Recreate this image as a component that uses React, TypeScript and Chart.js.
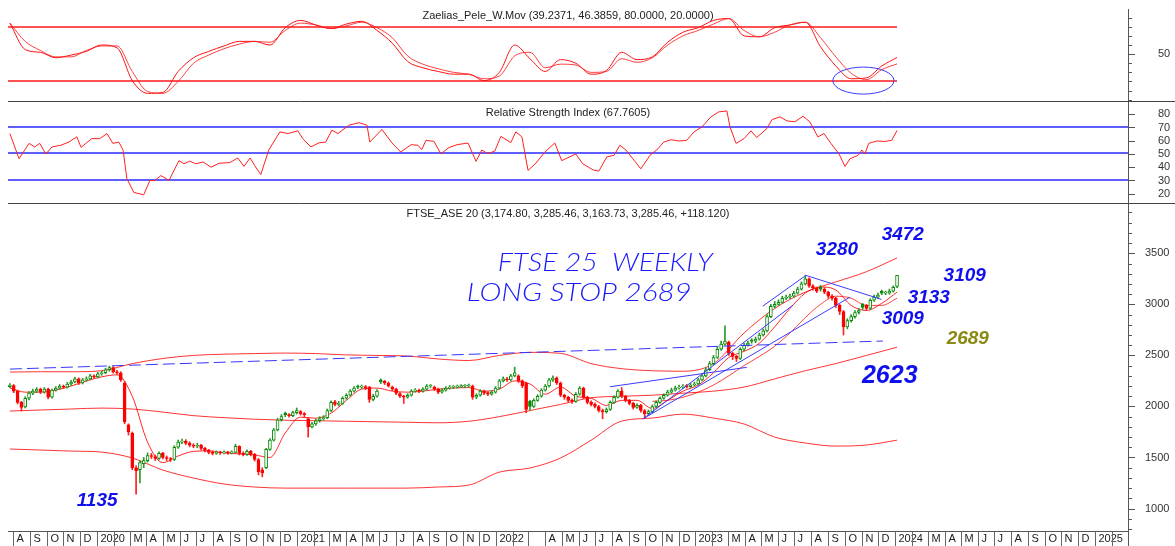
import React, { useEffect, useRef } from 'react';
import { Chart, registerables } from 'chart.js';
Chart.register(...registerables);

// ---------- layout constants ----------
const W = 1175;
const H_TOP = 101;
const H_RSI = 102;
const H_PRICE = 343;
const PLOT_LEFT = 8;
const AXIS_W = 47;
const X_MIN = -0.5;
const X_MAX = 292.4;
const FONT = '"Liberation Sans", Arial, sans-serif';
const START_UTC = Date.UTC(2019, 6, 26); // first weekly bar
const WEEK_MS = 7 * 864e5;

// ---------- axis labels ----------
const monthLabels = [
  'A', 'S', 'O', 'N', 'D',
  '2020', '', 'M', 'A', 'M', 'J', 'J', 'A', 'S', 'O', 'N', 'D',
  '2021', '', 'M', 'A', 'M', 'J', 'J', 'A', 'S', 'O', 'N', 'D',
  '2022', '', '', 'A', 'M', 'J', 'J', 'A', 'S', 'O', 'N', 'D',
  '2023', '', 'M', 'A', 'M', 'J', 'J', 'A', 'S', 'O', 'N', 'D',
  '2024', '', 'M', 'A', 'M', 'J', 'J', 'A', 'S', 'O', 'N', 'D',
  '2025', '',
];
const oscTicks = [0, 10, 20, 30, 40, 50, 60, 70, 80, 90];
const oscTickLabels = [50];
const rsiTicks = [20, 30, 40, 50, 60, 70, 80, 90];
const rsiTickLabels = [20, 30, 40, 50, 60, 70, 80];
const priceTickLabels = [1000, 1500, 2000, 2500, 3000, 3500];

// ---------- weekly candles (week index 0 = 26 Jul 2019) ----------
const opens = [
  2195, 2205, 2150, 2040, 1995, 2080, 2130, 2150, 2170, 2140,
  2170, 2090, 2160, 2180, 2200, 2190, 2220, 2240, 2270, 2230,
  2260, 2270, 2300, 2290, 2320, 2330, 2360, 2380, 2340, 2330,
  2230, 1820, 1740, 1400, 1380, 1440, 1470, 1520, 1510, 1490,
  1540, 1500, 1490, 1480, 1600, 1650, 1660, 1640, 1620, 1610,
  1620, 1590, 1570, 1550, 1540, 1550, 1545, 1550, 1545, 1550,
  1610, 1540, 1530, 1560, 1530, 1480, 1380, 1400, 1580, 1670,
  1770, 1870, 1935, 1920, 1910, 1940, 1950, 1930, 1880, 1800,
  1830, 1860, 1880, 1890, 1960, 2045, 2020, 2030, 2080, 2110,
  2150, 2200, 2190, 2195, 2190, 2070, 2100, 2260, 2245, 2230,
  2190, 2170, 2125, 2100, 2090, 2110, 2150, 2160, 2150, 2170,
  2200, 2190, 2170, 2140, 2160, 2180, 2190, 2190, 2195, 2200,
  2200, 2200, 2090, 2110, 2150, 2135, 2120, 2140, 2180, 2250,
  2270, 2260, 2300, 2300, 2250, 2230, 2050, 2000, 2060, 2100,
  2160, 2200, 2260, 2280, 2230, 2110, 2090, 2060, 2050, 2120,
  2180, 2090, 2040, 2020, 2000, 1960, 1950, 1970, 2040, 2090,
  2150, 2100, 2060, 2030, 1990, 2010, 1960, 1930, 1950, 2000,
  2040, 2080, 2110, 2140, 2160, 2180, 2190, 2200, 2195, 2210,
  2220, 2260, 2300, 2360, 2420, 2480, 2560, 2610, 2630, 2520,
  2490, 2470, 2560, 2600, 2650, 2640, 2660, 2700, 2740, 2880,
  2980, 3000, 3020, 3060, 3070, 3080, 3110, 3150, 3200, 3250,
  3180, 3160, 3170, 3150, 3120, 3080, 3060, 2990, 2930, 2780,
  2840, 2880, 2920, 3000, 2990, 2960, 3040, 3070, 3130, 3110,
  3110, 3130, 3174.8,
];
const highs = [
  2225, 2215, 2160, 2050, 2095, 2145, 2170, 2185, 2180, 2185,
  2180, 2170, 2195, 2215, 2210, 2235, 2255, 2285, 2280, 2275,
  2290, 2315, 2310, 2335, 2345, 2375, 2395, 2390, 2355, 2340,
  2245, 1830, 1750, 1420, 1470, 1500, 1545, 1540, 1525, 1555,
  1550, 1515, 1500, 1615, 1670, 1680, 1675, 1655, 1635, 1640,
  1630, 1600, 1580, 1565, 1565, 1560, 1565, 1560, 1565, 1630,
  1615, 1555, 1575, 1570, 1540, 1490, 1400, 1590, 1685, 1785,
  1885, 1920, 1945, 1930, 1955, 1985, 1960, 1940, 1890, 1845,
  1880, 1900, 1910, 1975, 2055, 2060, 2050, 2095, 2125, 2165,
  2195, 2210, 2210, 2205, 2195, 2120, 2165, 2270, 2255, 2240,
  2200, 2180, 2135, 2110, 2125, 2165, 2175, 2170, 2185, 2215,
  2215, 2200, 2180, 2175, 2195, 2205, 2205, 2210, 2215, 2215,
  2220, 2210, 2125, 2165, 2160, 2145, 2155, 2195, 2265, 2290,
  2285, 2315, 2385, 2310, 2260, 2240, 2060, 2075, 2115, 2175,
  2215, 2275, 2300, 2290, 2240, 2120, 2100, 2075, 2135, 2195,
  2190, 2100, 2055, 2035, 2010, 1975, 1985, 2055, 2105, 2165,
  2185, 2110, 2070, 2040, 2025, 2020, 1970, 1965, 2015, 2055,
  2095, 2125, 2160, 2180, 2200, 2210, 2215, 2215, 2225, 2240,
  2275, 2320, 2380, 2440, 2500, 2580, 2640, 2790, 2640, 2530,
  2500, 2575, 2620, 2640, 2665, 2680, 2720, 2760, 2900, 3000,
  3030, 3045, 3080, 3090, 3100, 3130, 3170, 3220, 3280, 3260,
  3195, 3170, 3185, 3165, 3130, 3095, 3070, 3000, 2940, 2860,
  2900, 2940, 2960, 3010, 3000, 3055, 3090, 3110, 3140, 3130,
  3150, 3180, 3285.46,
];
const lows = [
  2185, 2135, 2025, 1955, 1985, 2065, 2115, 2135, 2125, 2130,
  2075, 2080, 2150, 2170, 2175, 2180, 2205, 2230, 2215, 2220,
  2245, 2260, 2275, 2280, 2305, 2320, 2345, 2325, 2315, 2245,
  1830, 1720, 1380, 1140, 1250, 1400, 1455, 1490, 1470, 1480,
  1485, 1470, 1460, 1470, 1590, 1635, 1625, 1605, 1595, 1595,
  1575, 1555, 1535, 1525, 1530, 1530, 1535, 1530, 1535, 1545,
  1525, 1515, 1520, 1515, 1465, 1330, 1310, 1390, 1570, 1660,
  1760, 1855, 1900, 1895, 1900, 1925, 1915, 1900, 1700, 1790,
  1815, 1845, 1865, 1880, 1950, 2005, 2005, 2020, 2070, 2100,
  2140, 2175, 2175, 2165, 2040, 2055, 2090, 2225, 2215, 2190,
  2155, 2115, 2085, 2030, 2080, 2100, 2140, 2135, 2140, 2160,
  2185, 2155, 2125, 2130, 2150, 2170, 2175, 2180, 2185, 2185,
  2190, 2070, 2075, 2100, 2115, 2105, 2110, 2130, 2170, 2240,
  2245, 2250, 2290, 2235, 2185, 1940, 1960, 1990, 2050, 2090,
  2150, 2190, 2245, 2215, 2095, 2070, 2045, 2030, 2040, 2110,
  2075, 2025, 2005, 1985, 1945, 1880, 1935, 1960, 2030, 2080,
  2085, 2045, 2015, 1975, 1980, 1945, 1886, 1915, 1940, 1990,
  2030, 2070, 2100, 2130, 2150, 2170, 2175, 2180, 2185, 2200,
  2210, 2250, 2290, 2350, 2410, 2470, 2550, 2600, 2500, 2460,
  2440, 2460, 2545, 2590, 2620, 2625, 2650, 2690, 2730, 2870,
  2965, 2990, 3010, 3045, 3055, 3070, 3100, 3140, 3190, 3165,
  3140, 3115, 3130, 3105, 3060, 3040, 2970, 2900, 2700, 2760,
  2825, 2865, 2905, 2950, 2940, 2950, 3030, 3060, 3095, 3095,
  3100, 3120, 3163.73,
];
const closes = [
  2210, 2150, 2040, 1990, 2080, 2130, 2150, 2170, 2140, 2170,
  2090, 2160, 2180, 2200, 2190, 2220, 2240, 2270, 2230, 2260,
  2270, 2300, 2290, 2320, 2330, 2360, 2380, 2340, 2330, 2260,
  1850, 1750, 1400, 1370, 1450, 1470, 1520, 1510, 1490, 1540,
  1500, 1490, 1480, 1600, 1650, 1660, 1640, 1620, 1610, 1620,
  1590, 1570, 1550, 1540, 1550, 1545, 1550, 1545, 1550, 1610,
  1540, 1530, 1560, 1530, 1480, 1360, 1350, 1580, 1670, 1770,
  1870, 1900, 1920, 1910, 1940, 1960, 1930, 1920, 1800, 1830,
  1860, 1880, 1890, 1960, 2040, 2020, 2030, 2080, 2110, 2150,
  2180, 2190, 2190, 2180, 2070, 2100, 2150, 2240, 2230, 2200,
  2170, 2130, 2100, 2090, 2110, 2150, 2160, 2150, 2170, 2200,
  2200, 2170, 2140, 2160, 2180, 2190, 2190, 2195, 2200, 2200,
  2205, 2090, 2110, 2150, 2130, 2120, 2140, 2180, 2250, 2270,
  2260, 2300, 2330, 2250, 2200, 1970, 2000, 2060, 2100, 2160,
  2200, 2260, 2280, 2230, 2110, 2090, 2060, 2050, 2120, 2180,
  2090, 2040, 2020, 2000, 1960, 1950, 1970, 2040, 2090, 2150,
  2100, 2060, 2030, 1990, 2010, 1960, 1930, 1950, 2000, 2040,
  2080, 2110, 2140, 2160, 2180, 2190, 2200, 2195, 2210, 2220,
  2260, 2300, 2360, 2420, 2480, 2560, 2610, 2640, 2520, 2490,
  2470, 2560, 2600, 2620, 2640, 2660, 2700, 2740, 2880, 2980,
  3000, 3020, 3060, 3070, 3080, 3110, 3150, 3200, 3250, 3180,
  3160, 3130, 3150, 3120, 3080, 3060, 2990, 2930, 2780, 2840,
  2880, 2920, 2940, 2970, 2960, 3040, 3070, 3090, 3110, 3110,
  3130, 3167.34, 3285.46,
];

// ---------- price overlays ----------
const bandWeeks = [0, 8, 16, 24, 32, 40, 48, 56, 64, 72, 80, 88, 96, 104, 112, 120, 128, 136, 144, 152, 160, 168, 176, 184, 192, 200, 208, 216, 224, 232];
const bandUpper = [2337, 2340, 2340, 2350, 2420, 2470, 2500, 2512, 2518, 2523, 2518, 2505, 2500, 2494, 2465, 2450, 2500, 2530, 2520, 2420, 2370, 2350, 2345, 2420, 2720, 2960, 3120, 3220, 3320, 3455];
const bandMiddle = [1955, 1965, 1975, 1984, 1975, 1945, 1910, 1890, 1875, 1865, 1860, 1855, 1850, 1845, 1840, 1855, 1900, 1960, 2020, 2085, 2100, 2110, 2130, 2150, 2190, 2270, 2350, 2420, 2500, 2580];
const bandLower = [1583, 1573, 1563, 1553, 1495, 1377, 1299, 1240, 1211, 1200, 1200, 1200, 1200, 1200, 1211, 1230, 1357, 1397, 1495, 1670, 1857, 1886, 1925, 1886, 1828, 1700, 1642, 1612, 1622, 1670];

const maWeeks = [0, 4, 8, 12, 16, 20, 24, 28, 32, 36, 40, 44, 48, 52, 56, 60, 64, 68, 72, 76, 80, 84, 88, 92, 96, 100, 104, 108, 112, 116, 120, 124, 128, 132, 136, 140, 144, 148, 152, 156, 160, 164, 168, 172, 176, 180, 184, 188, 192, 196, 200, 204, 208, 212, 216, 220, 224, 228, 232];
const maFast = [2180, 2140, 2140, 2160, 2200, 2250, 2290, 2310, 2100, 1650, 1450, 1515, 1560, 1565, 1545, 1535, 1525, 1500, 1740, 1895, 1885, 1935, 2060, 2170, 2180, 2150, 2140, 2150, 2170, 2180, 2185, 2150, 2170, 2250, 2220, 2120, 2190, 2100, 2080, 2010, 2060, 2060, 1980, 2060, 2150, 2210, 2330, 2480, 2540, 2620, 2780, 2960, 3110, 3170, 3140, 2990, 2940, 3010, 3120];
const maSlowWeeks = [168, 172, 176, 180, 184, 188, 192, 196, 200, 204, 208, 212, 216, 220, 224, 228, 232];
const maSlow = [2050, 2060, 2090, 2140, 2210, 2300, 2400, 2490, 2590, 2720, 2870, 3000, 3080, 3060, 2990, 2990, 3060];

// trend lines [week, price]
const trendFrom = [[156.9, 2193], [165.5, 1877], [165.5, 1877], [196.9, 2983], [207.9, 3287]];
const trendTo = [[192.7, 2383], [204.8, 2993], [219.7, 3071], [207.9, 3277], [227.9, 3049]];
const stopLine = [[0, 2366], [228.3, 2641]];

// annotations
const noteTexts = ['3280', '3472', '3109', '3133', '3009', '2689', '2623', '1135'];
const noteWeeks = [216.3, 233.5, 249.7, 240.3, 233.5, 250.5, 230.1, 22.8];
const notePrices = [3532, 3679, 3277, 3062, 2856, 2660, 2298, 1078];
const handTexts = ['FTSE 25  WEEKLY', 'LONG STOP 2689'];
const handWeeks = [155.7, 148.9];
const handPrices = [3409, 3116];

// ---------- oscillator (top panel) ----------
const oscWeeks = maWeeks;
const oscMain = [84, 55, 52, 46, 49, 53, 60, 57, 21, 7, 8, 31, 46, 53, 59, 64, 64, 60, 79, 87, 82, 78, 83, 86, 76, 62, 42, 35, 31, 28, 28, 21, 30, 60, 45, 31, 44, 40, 28, 32, 52, 44, 47, 63, 74, 79, 87, 89, 70, 69, 79, 82, 85, 58, 37, 23, 24, 37, 46.39];
const oscSignal = [84, 64, 54, 47, 47, 54, 59, 59, 31, 9, 7, 20, 40, 49, 56, 61, 64, 63, 76, 84, 82, 78, 81, 85, 79, 68, 48, 39, 34, 30, 28, 23, 26, 48, 52, 35, 39, 38, 30, 31, 45, 41, 46, 60, 70, 76, 83, 89, 76, 69, 74, 82, 85, 68, 47, 29, 22, 33, 39.24];
const oscLevels = [80, 20];
const oscLevelEnd = 232;
const ellipseCenter = [223.2, 21];
const ellipseRadius = [8, 14.8];

// ---------- RSI ----------
const rsiWeeks = [0, 2.4, 5, 6.5, 7.8, 9.4, 11, 13.3, 15.4, 17.5, 18.6, 21.4, 23.5, 25.4, 26.9, 28.5, 29.6, 30.6, 32.4, 35, 36.6, 37.9, 39.5, 41.6, 44.2, 45.5, 47, 48.6, 50.5, 52.6, 54.7, 57.5, 59.6, 61.2, 62.8, 64, 65.6, 67.7, 70.6, 72.7, 75.3, 76.6, 78.7, 80.8, 82.6, 84.2, 85.8, 88.6, 91.3, 93.4, 94.1, 97.3, 99.9, 102.2, 104.9, 106.7, 107.7, 108.8, 110.9, 112.7, 114.8, 116.9, 119.8, 121.9, 123.4, 125, 126.8, 128.4, 131, 132.3, 133.9, 135.5, 137.6, 139.9, 142.5, 144.3, 148, 149.8, 152.5, 154, 156.1, 158, 159.5, 161.1, 162.9, 165, 167.4, 169.5, 171, 172.9, 174.9, 177, 178.9, 181, 183.3, 185.4, 187.5, 188.3, 189.9, 192, 193.8, 195.3, 198, 199.3, 201.4, 203.2, 205.3, 207.4, 209.2, 211.3, 212.9, 214.7, 216.8, 218.4, 219.7, 221.8, 222.8, 223.6, 224.6, 226.7, 228.8, 230.6, 232];
const rsiValues = [65.4, 46.4, 58, 55.3, 58, 50, 55.3, 56.6, 59, 63, 55, 61.6, 61.6, 65.4, 58, 59, 52.8, 31.3, 21, 19.2, 30, 30, 33.7, 30, 45, 42.6, 44.6, 42.6, 44, 40, 43, 43.5, 47, 40.6, 47, 41.3, 34.5, 53, 66.7, 65.4, 67.5, 61.6, 55.3, 58.4, 59, 68, 65.4, 71.7, 73.6, 71.7, 59, 68.5, 58.4, 51.5, 57, 56.6, 53.3, 60.3, 59.5, 50.2, 54.8, 57, 58.3, 44.4, 53, 50.2, 52.2, 63.3, 58.6, 66.7, 62.9, 37.6, 43.2, 51.5, 58.3, 45, 50, 42.6, 38, 37, 47.8, 49, 56.6, 53, 46.4, 38.8, 49, 54, 59, 60.8, 59.8, 60.3, 66.7, 70.5, 78, 81.8, 82.5, 70.5, 58, 61.6, 67.5, 62.4, 69.3, 76, 78, 75, 74.3, 78.5, 74.3, 62.9, 65.4, 58, 50.2, 40.6, 46.4, 49, 53, 50, 58, 59.8, 59.5, 60.3, 67.76];
const rsiLevels = [70, 51, 30];

// ---------- helpers ----------
const pts = (xs: number[], ys: number[]) => xs.map((x, i) => ({ x, y: ys[i] }));
const seg = (a: number[], b: number[]) => [{ x: a[0], y: a[1] }, { x: b[0], y: b[1] }];

const lineDs = (data: any[], color: string, width = 1, extra: any = {}) => ({
  type: 'line', data, borderColor: color, backgroundColor: color, borderWidth: width, pointRadius: 0, fill: false, tension: 0, ...extra,
});

function yAxis(min: number, max: number, tickValues: number[], labelled: number[], padding: number) {
  return {
    type: 'linear', position: 'right', min, max,
    afterBuildTicks: (s: any) => { s.ticks = tickValues.map((v) => ({ value: v })); },
    afterFit: (s: any) => { s.width = AXIS_W; s.paddingTop = 0; s.paddingBottom = 0; },
    ticks: {
      callback: (v: number) => (labelled.includes(v) ? String(v) : ''),
      padding, crossAlign: 'near', autoSkip: false,
      font: { family: FONT, size: 11 }, color: '#333',
    },
    grid: { display: false, drawTicks: true, tickLength: 8 },
    border: { display: true, color: '#555', width: 1 },
  };
}

function baseOptions(padTop: number, padBottom: number, y: any) {
  return {
    responsive: false, animation: false, devicePixelRatio: 1, events: [],
    layout: { padding: { left: PLOT_LEFT, right: 0, top: padTop, bottom: padBottom } },
    plugins: { legend: { display: false }, tooltip: { enabled: false }, title: { display: false }, colors: { enabled: false } },
    scales: {
      x: { type: 'linear', min: X_MIN, max: X_MAX, display: false, offset: false },
      y,
    },
  };
}

const tickMarks = (labelled: number[]) => ({
  id: 'tickMarks',
  afterDraw(chart: any) {
    const s = chart.scales.y; const ctx = chart.ctx;
    ctx.save(); ctx.strokeStyle = '#555'; ctx.lineWidth = 1;
    s.ticks.forEach((t: any) => {
      const yy = Math.round(s.getPixelForValue(t.value)) + 0.5;
      const len = labelled.includes(t.value) ? 7 : 4;
      ctx.beginPath(); ctx.moveTo(s.left, yy); ctx.lineTo(s.left + len, yy); ctx.stroke();
    });
    ctx.restore();
  },
});

// horizontal reference levels drawn through the scales (soft 1.3px like the original)
const levelPlugin = (levels: number[], endWeek: number, color: string) => ({
  id: 'levels',
  beforeDatasetsDraw(chart: any) {
    const { ctx, scales: { x, y } } = chart;
    ctx.save(); ctx.strokeStyle = color; ctx.lineWidth = 1.3;
    levels.forEach((lv) => {
      const yy = Math.round(y.getPixelForValue(lv));
      ctx.beginPath(); ctx.moveTo(x.getPixelForValue(X_MIN), yy); ctx.lineTo(x.getPixelForValue(endWeek), yy); ctx.stroke();
    });
    ctx.restore();
  },
});

const titlePlugin = (text: string, y: number) => ({
  id: 'panelTitle',
  afterDraw(chart: any) {
    const { ctx, chartArea } = chart;
    ctx.save();
    ctx.font = `11px ${FONT}`; ctx.fillStyle = '#222';
    ctx.textAlign = 'center'; ctx.textBaseline = 'middle';
    ctx.fillText(text, (chartArea.left + chartArea.right) / 2, y);
    ctx.restore();
  },
});

const separatorPlugin = {
  id: 'separator',
  afterDraw(chart: any) {
    const ctx = chart.ctx;
    ctx.save(); ctx.strokeStyle = '#444'; ctx.lineWidth = 1;
    ctx.beginPath(); ctx.moveTo(PLOT_LEFT, 0.5); ctx.lineTo(W, 0.5); ctx.stroke();
    ctx.restore();
  },
};

const ellipsePlugin = {
  id: 'ellipse',
  afterDatasetsDraw(chart: any) {
    const { ctx, scales: { x, y } } = chart;
    const cx = x.getPixelForValue(ellipseCenter[0]);
    const cy = y.getPixelForValue(ellipseCenter[1]);
    const rx = Math.abs(x.getPixelForValue(ellipseCenter[0] + ellipseRadius[0]) - cx);
    const ry = Math.abs(y.getPixelForValue(ellipseCenter[1] + ellipseRadius[1]) - cy);
    ctx.save(); ctx.strokeStyle = '#3a3aff'; ctx.lineWidth = 1;
    ctx.beginPath(); ctx.ellipse(cx, cy, rx, ry, 0, 0, Math.PI * 2); ctx.stroke();
    ctx.restore();
  },
};

const noteColors = ['#1010ee', '#1010ee', '#1010ee', '#1010ee', '#1010ee', '#8a8a12', '#1010ee', '#1010ee'];
const noteSizes = [19, 19, 19, 19, 19, 19, 25, 19];
const handWidths = [215, 225];

const notesPlugin = {
  id: 'notes',
  afterDatasetsDraw(chart: any) {
    const { ctx, scales: { x, y } } = chart;
    ctx.save();
    ctx.textAlign = 'center'; ctx.textBaseline = 'middle';
    noteTexts.forEach((t, i) => {
      ctx.font = `italic bold ${noteSizes[i]}px ${FONT}`;
      ctx.fillStyle = noteColors[i];
      ctx.fillText(t, x.getPixelForValue(noteWeeks[i]), y.getPixelForValue(notePrices[i]));
    });
    handTexts.forEach((t, i) => {
      ctx.save();
      ctx.font = `italic 300 26px Lato, "DejaVu Sans", sans-serif`;
      ctx.fillStyle = '#1a1aff';
      const w = ctx.measureText(t).width;
      ctx.translate(x.getPixelForValue(handWeeks[i]), y.getPixelForValue(handPrices[i]));
      ctx.scale(handWidths[i] / w, 1);
      ctx.fillText(t, 0, 0);
      ctx.restore();
    });
    ctx.restore();
  },
};

const monthAxisPlugin = {
  id: 'monthAxis',
  afterDraw(chart: any) {
    const { ctx, chartArea, scales: { x } } = chart;
    const top = Math.round(chartArea.bottom) + 0.5;
    const H = chart.height;
    ctx.save();
    ctx.strokeStyle = '#555'; ctx.lineWidth = 1;
    ctx.beginPath(); ctx.moveTo(chartArea.left, top); ctx.lineTo(chartArea.right, top); ctx.stroke();
    ctx.beginPath(); ctx.moveTo(Math.round(chartArea.right) + 0.5, chartArea.bottom); ctx.lineTo(Math.round(chartArea.right) + 0.5, H); ctx.stroke();
    ctx.font = `11px ${FONT}`; ctx.fillStyle = '#222';
    ctx.textAlign = 'left'; ctx.textBaseline = 'middle';
    monthLabels.forEach((lab, k) => {
      const w = (Date.UTC(2019, 7 + k, 1) - START_UTC) / WEEK_MS;
      const px = Math.round(x.getPixelForValue(w)) + 0.5;
      ctx.strokeStyle = '#666';
      ctx.beginPath(); ctx.moveTo(px, top); ctx.lineTo(px, H); ctx.stroke();
      if (lab) ctx.fillText(lab, px + 3, top + 7.5);
    });
    ctx.restore();
  },
};

// ---------- charts ----------
function makeOsc(canvas: HTMLCanvasElement) {
  const datasets: any[] = [
    lineDs(pts(oscWeeks, oscSignal), 'rgba(255,30,30,0.85)', 1, { cubicInterpolationMode: 'monotone' }),
    lineDs(pts(oscWeeks, oscMain), '#ff1010', 1, { cubicInterpolationMode: 'monotone' }),
  ];
  return new Chart(canvas, {
    type: 'line',
    data: { datasets },
    options: baseOptions(9, 0, yAxis(-1.4, 99.5, oscTicks, oscTickLabels, 22)) as any,
    plugins: [levelPlugin(oscLevels, oscLevelEnd, '#ff1a1a'), tickMarks(oscTickLabels), ellipsePlugin, titlePlugin('Zaelias_Pele_W.Mov (39.2371, 46.3859, 80.0000, 20.0000)', 16)],
  });
}

function makeRsi(canvas: HTMLCanvasElement) {
  const datasets: any[] = [
    lineDs(pts(rsiWeeks, rsiValues), '#ff2020', 1),
  ];
  return new Chart(canvas, {
    type: 'line',
    data: { datasets },
    options: baseOptions(0, 0, yAxis(13, 90, rsiTicks, rsiTickLabels, 22)) as any,
    plugins: [levelPlugin(rsiLevels, X_MAX, '#2a2aff'), tickMarks(rsiTickLabels), separatorPlugin, titlePlugin('Relative Strength Index (67.7605)', 12)],
  });
}

function makePrice(canvas: HTMLCanvasElement) {
  const idx = closes.map((_, i) => i);
  const isUp = idx.map((i) => (i === 0 ? closes[0] >= opens[0] : closes[i] >= closes[i - 1]));
  const edge = idx.map((i) => (isUp[i] ? '#0a8a0a' : '#ff0000'));
  const wickCol = idx.map((i) => (isUp[i] ? '#2a9a2a' : '#ff2020'));
  const fillCol = idx.map((i) => (closes[i] < opens[i] ? edge[i] : '#ffffff'));
  const priceTicks: number[] = [];
  for (let v = 800; v <= 3900; v += 100) priceTicks.push(v);

  const smooth = { cubicInterpolationMode: 'monotone' };
  const datasets: any[] = [
    lineDs(pts(bandWeeks, bandUpper), 'rgba(255,0,0,0.8)', 1, { ...smooth, order: 6 }),
    lineDs(pts(bandWeeks, bandMiddle), 'rgba(255,0,0,0.8)', 1, { ...smooth, order: 6 }),
    lineDs(pts(bandWeeks, bandLower), 'rgba(255,0,0,0.8)', 1, { ...smooth, order: 6 }),
    lineDs(pts(maWeeks, maFast), 'rgba(255,0,0,0.85)', 1, { ...smooth, order: 5 }),
    lineDs(pts(maSlowWeeks, maSlow), 'rgba(255,0,0,0.75)', 1, { ...smooth, order: 5 }),
    {
      type: 'bar', order: 4, grouped: false, barThickness: 1,
      data: idx.map((i) => ({ x: i, y: [lows[i], highs[i]] })),
      backgroundColor: wickCol, borderWidth: 0,
    },
    {
      type: 'bar', order: 3, grouped: false, barThickness: 3, minBarLength: 1,
      data: idx.map((i) => ({ x: i, y: [Math.min(opens[i], closes[i]), Math.max(opens[i], closes[i])] })),
      backgroundColor: fillCol, borderColor: edge, borderWidth: 1, borderSkipped: false,
    },
    lineDs(seg(stopLine[0], stopLine[1]), '#3535ff', 1, { borderDash: [12, 5], order: 2 }),
    ...trendFrom.map((a, i) => lineDs(seg(a, trendTo[i]), '#3a3aff', 1, { order: 1 })),
  ];
  return new Chart(canvas, {
    type: 'line',
    data: { datasets },
    options: baseOptions(0, H_PRICE - 328, yAxis(780, 3993, priceTicks, priceTickLabels, 9)) as any,
    plugins: [
      tickMarks(priceTickLabels), separatorPlugin, notesPlugin, monthAxisPlugin,
      titlePlugin('FTSE_ASE 20 (3,174.80, 3,285.46, 3,163.73, 3,285.46, +118.120)', 11),
    ],
  });
}

export default function App() {
  const r1 = useRef<HTMLCanvasElement>(null);
  const r2 = useRef<HTMLCanvasElement>(null);
  const r3 = useRef<HTMLCanvasElement>(null);
  useEffect(() => {
    document.body.style.margin = '0';
    document.body.style.overflow = 'hidden';
    const charts = [makeOsc(r1.current!), makeRsi(r2.current!), makePrice(r3.current!)];
    return () => charts.forEach((c) => c.destroy());
  }, []);
  return (
    <div style={{ width: W, height: H_TOP + H_RSI + H_PRICE, background: '#fff' }}>
      <canvas ref={r1} width={W} height={H_TOP} style={{ display: 'block' }} />
      <canvas ref={r2} width={W} height={H_RSI} style={{ display: 'block' }} />
      <canvas ref={r3} width={W} height={H_PRICE} style={{ display: 'block' }} />
    </div>
  );
}
